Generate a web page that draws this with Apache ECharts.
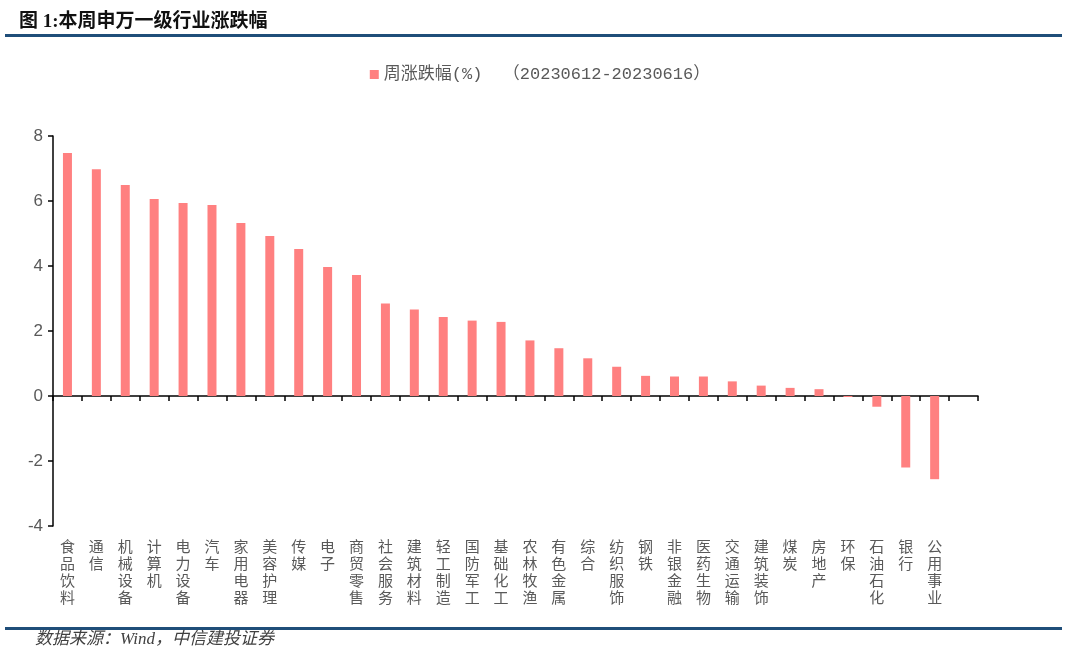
<!DOCTYPE html>
<html><head><meta charset="utf-8">
<script src="https://cdn.jsdelivr.net/npm/echarts@6/dist/echarts.min.js"></script>
<style>html,body{margin:0;padding:0;background:#fff}#c{width:1080px;height:663px}</style>
</head><body><div id="c"></div>
<script>
const categories = ['食品饮料','通信','机械设备','计算机','电力设备','汽车','家用电器','美容护理','传媒','电子','商贸零售','社会服务','建筑材料','轻工制造','国防军工','基础化工','农林牧渔','有色金属','综合','纺织服饰','钢铁','非银金融','医药生物','交通运输','建筑装饰','煤炭','房地产','环保','石油石化','银行','公用事业',''];
const weeklyChange = [7.48,6.98,6.49,6.06,5.94,5.88,5.32,4.92,4.52,3.97,3.72,2.85,2.66,2.43,2.32,2.28,1.71,1.47,1.16,0.90,0.62,0.60,0.60,0.45,0.32,0.25,0.21,-0.03,-0.33,-2.20,-2.56,null];
const seriesName = '周涨跌幅(%)  （20230612-20230616）';
const yTicks = {min:-4, max:8, interval:2};

const chart = echarts.init(document.getElementById('c'));
const vLabel = v => v.split('').join('\n');
chart.setOption({
  animation:false,
  title:{text:'图 1:本周申万一级行业涨跌幅', left:14, top:8,
    textStyle:{fontSize:19, fontWeight:'bold', color:'#111', fontFamily:'"Liberation Serif","Noto Sans CJK SC",serif'}},
  legend:{top:61, left:'center', itemWidth:9, itemHeight:9, itemGap:5,
    textStyle:{fontSize:17, color:'#595959', fontFamily:'"Liberation Mono","Noto Sans CJK SC",monospace'},
    data:[{name:seriesName, icon:'rect'}]},
  grid:{left:53, right:102, top:136, bottom:137},
  xAxis:[{
    type:'category', data:categories, position:'bottom',
    axisLine:{show:false, onZero:false}, axisTick:{show:false},
    axisLabel:{interval:0, margin:12, fontSize:15, lineHeight:17, color:'#595959',
      fontFamily:'"Noto Sans CJK SC",sans-serif', verticalAlign:'top', formatter:vLabel}
  },{
    type:'category', data:categories, position:'bottom',
    axisLine:{show:true, onZero:true, lineStyle:{color:'#000', width:1.5}},
    axisTick:{show:true, interval:0, inside:false, length:5, lineStyle:{color:'#000', width:1.5}},
    axisLabel:{show:false}
  }],
  yAxis:{type:'value', min:yTicks.min, max:yTicks.max, interval:yTicks.interval,
    axisLine:{show:true, lineStyle:{color:'#000', width:1.5}},
    axisTick:{show:true, length:5, lineStyle:{color:'#000', width:1.5}},
    splitLine:{show:false},
    axisLabel:{fontSize:17, color:'#595959', margin:10, fontFamily:'"Liberation Sans",Arial,sans-serif'}},
  series:[{name:seriesName, type:'bar', data:weeklyChange, barWidth:9, xAxisIndex:0,
    itemStyle:{color:'#FF8080'}}],
  graphic:[
    {type:'rect', shape:{x:5, y:34, width:1057, height:3}, style:{fill:'#1F4E79'}},
    {type:'rect', shape:{x:5, y:627, width:1057, height:3}, style:{fill:'#1F4E79'}},
    {type:'text', left:35, top:631, style:{text:'数据来源：Wind，中信建投证券',
      fill:'#404040', font:'italic 17px "Liberation Serif","Noto Sans CJK SC",serif'}}
  ]
});
</script></body></html>
